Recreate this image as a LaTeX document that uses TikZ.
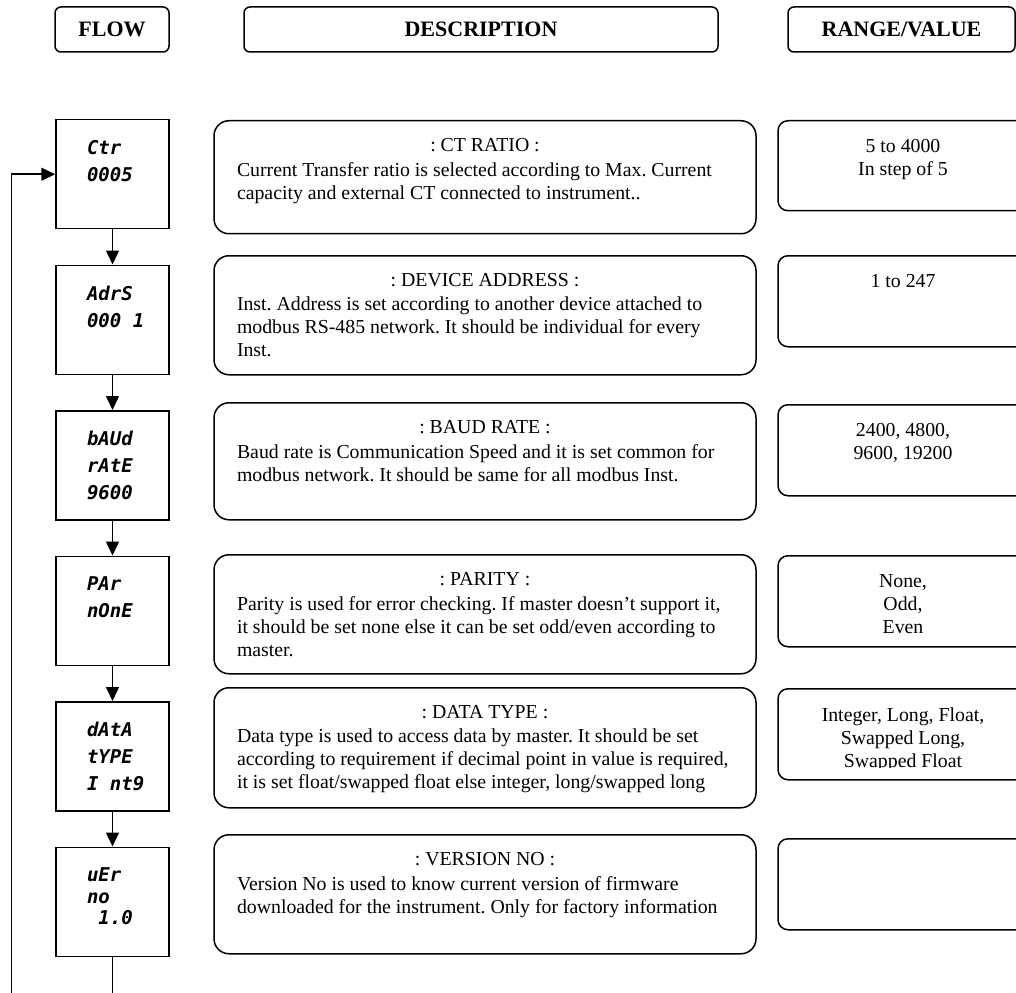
\documentclass[tikz,border=0pt]{standalone}
\usepackage{fontspec}
\setmainfont{Liberation Serif}
\newfontfamily\dispfont{DejaVu Sans Mono}
\usetikzlibrary{positioning,arrows.meta}
\frenchspacing
\tikzset{%
	>={Triangle[width=13pt,length=14pt]},
	% Specifications for style of nodes:
	base/.style = {rectangle, draw=black, line width=1.5pt, inner sep=0pt},
	headbox/.style = {base, rounded corners=6pt, minimum height=45pt,
		font=\fontsize{22}{26}\selectfont\bfseries},
	flowbox/.style = {base, minimum width=113pt, minimum height=109pt},
	descbox/.style = {base, rounded corners=15pt, minimum width=542pt, anchor=north},
	rangebox/.style = {base, rounded corners=10pt, minimum width=250pt,
		minimum height=91pt, anchor=north},
	% Specifications for style of texts:
	flowtext/.style = {anchor=north west, inner sep=0pt, align=left,
		font=\dispfont\bfseries\itshape\fontsize{19}{27}\selectfont},
	desctitle/.style = {anchor=base, inner sep=0pt,
		font=\fontsize{19.8}{23}\selectfont},
	desctext/.style = {anchor=north west, inner sep=0pt, align=left,
		font=\fontsize{19.8}{23}\selectfont},
	rangetext/.style = {anchor=north, inner sep=0pt, align=center,
		font=\fontsize{19.8}{23}\selectfont},
}

\begin{document}
\begin{tikzpicture}[x=1pt, y=1pt, line width=1.5pt]
\useasboundingbox (0,0) rectangle (1016,-992);

%% Header row
\node (hflow)  [headbox, minimum width=114pt] at (112,-29.5)   {FLOW};
\node (hdesc)  [headbox, minimum width=474pt] at (481,-29.5)   {DESCRIPTION};
\node (hrange) [headbox, minimum width=227pt] at (901.5,-29.5) {RANGE/VALUE};

%% Flow boxes (display)
\node (f1) [flowbox, anchor=north] at (112.5,-119) {};
\node (f2) [flowbox, below=35pt of f1] {};
\node (f3) [flowbox, below=35pt of f2] {};
\node (f4) [flowbox, below=35pt of f3] {};
\node (f5) [flowbox, below=35pt of f4] {};
\node (f6) [flowbox, below=35pt of f5] {};

\node (f1text) [flowtext] at ([xshift=31pt,yshift=-20.5pt]f1.north west) {Ctr\\0005};
\node (f2text) [flowtext] at ([xshift=31pt,yshift=-20.5pt]f2.north west) {AdrS\\000 1};
\node (f3text) [flowtext] at ([xshift=31pt,yshift=-20.5pt]f3.north west) {bAUd\\rAtE\\9600};
\node (f4text) [flowtext] at ([xshift=31pt,yshift=-20.5pt]f4.north west) {PAr\\nOnE};
\node (f5text) [flowtext] at ([xshift=31pt,yshift=-20.5pt]f5.north west) {dAtA\\tYPE\\I nt9};
\node (f6text) [flowtext, font=\dispfont\bfseries\itshape\fontsize{19}{21.5}\selectfont]
	at ([xshift=31pt,yshift=-20.5pt]f6.north west) {uEr\\no\\\phantom{0}1.0};

%% Description boxes
\node (d1) [descbox, minimum height=113pt] at (485,-120) {};
\node (d2) [descbox, minimum height=119pt] at (485,-255) {};
\node (d3) [descbox, minimum height=117pt] at (485,-402) {};
\node (d4) [descbox, minimum height=119pt] at (485,-554) {};
\node (d5) [descbox, minimum height=120pt] at (485,-687) {};
\node (d6) [descbox, minimum height=119pt] at (485,-834) {};

\node (d1title) [desctitle] at ([yshift=-31.5pt]d1.north) {: CT RATIO :};
\node (d2title) [desctitle] at ([yshift=-31.5pt]d2.north) {: DEVICE ADDRESS :};
\node (d3title) [desctitle] at ([yshift=-31.5pt]d3.north) {: BAUD RATE :};
\node (d4title) [desctitle] at ([yshift=-31.5pt]d4.north) {: PARITY :};
\node (d5title) [desctitle] at ([yshift=-31.5pt]d5.north) {: DATA TYPE :};
\node (d6title) [desctitle] at ([yshift=-31.5pt]d6.north) {: VERSION NO :};

\node (d1text) [desctext] at ([xshift=23pt,yshift=-41.5pt]d1.north west)
	{Current Transfer ratio is selected according to Max. Current\\
	capacity and external CT connected to instrument..};
\node (d2text) [desctext] at ([xshift=23pt,yshift=-41.5pt]d2.north west)
	{Inst. Address is set according to another device attached to\\
	modbus RS-485 network. It should be individual for every\\
	Inst.};
\node (d3text) [desctext] at ([xshift=23pt,yshift=-41.5pt]d3.north west)
	{Baud rate is Communication Speed and it is set common for\\
	modbus network. It should be same for all modbus Inst.};
\node (d4text) [desctext] at ([xshift=23pt,yshift=-41.5pt]d4.north west)
	{Parity is used for error checking. If master doesn’t support it,\\
	it should be set none else it can be set odd/even according to\\
	master.};
\node (d5text) [desctext] at ([xshift=23pt,yshift=-41.5pt]d5.north west)
	{Data type is used to access data by master. It should be set\\
	according to requirement if decimal point in value is required,\\
	it is set float/swapped float else integer, long/swapped long};
\node (d6text) [desctext] at ([xshift=23pt,yshift=-41.5pt]d6.north west)
	{Version No is used to know current version of firmware\\
	downloaded for the instrument. Only for factory information};

%% Range / value boxes
\node (r1) [rangebox, minimum height=90pt] at (903,-120) {};
\node (r2) [rangebox] at (903,-255) {};
\node (r3) [rangebox] at (903,-404) {};
\node (r4) [rangebox] at (903,-555) {};
\node (r5) [rangebox] at (903,-688) {};
\node (r6) [rangebox] at (903,-838) {};

\node (r1text) [rangetext] at ([yshift=-18.6pt]r1.north) {5 to 4000\\In step of 5};
\node (r2text) [rangetext] at ([yshift=-18.6pt]r2.north) {1 to 247};
\node (r3text) [rangetext] at ([yshift=-18.6pt]r3.north) {2400, 4800,\\9600, 19200};
\node (r4text) [rangetext] at ([yshift=-18.6pt]r4.north) {None,\\Odd,\\Even};
\begin{scope}
\clip (770,-680) rectangle (1040,-767);
\node (r5text) [rangetext] at ([yshift=-18.6pt]r5.north)
	{Integer, Long, Float,\\Swapped Long,\\Swapped Float};
\end{scope}

%% Connectors
\draw[->] (f1) -- (f2);
\draw[->] (f2) -- (f3);
\draw[->] (f3) -- (f4);
\draw[->] (f4) -- (f5);
\draw[->] (f5) -- (f6);
\draw[->] (f6.south) -- ++(0,-80) -| ([xshift=-44pt]f1.west) -- (f1.west);

\end{tikzpicture}
\end{document}
